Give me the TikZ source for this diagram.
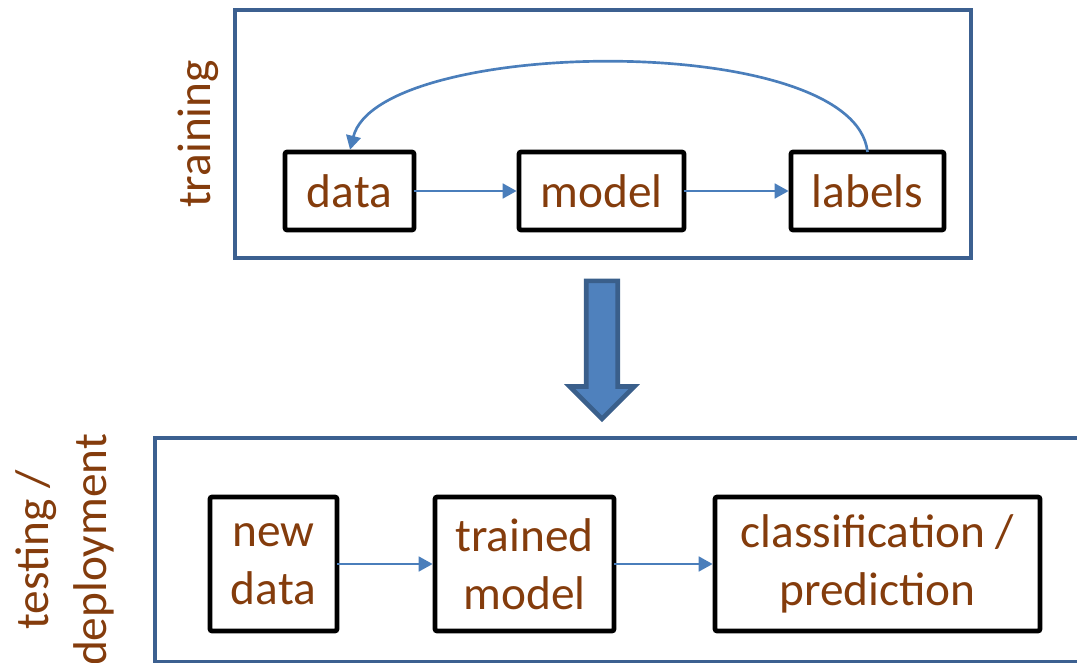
\documentclass[tikz,border=0pt]{standalone}
\usepackage{fontspec}
\setmainfont{Carlito}
\usepackage{tikz}
\usetikzlibrary{arrows.meta,positioning,shapes.arrows}
\definecolor{panel}{HTML}{3C6090}
\definecolor{link}{HTML}{4A7EBB}
\definecolor{word}{HTML}{843C0C}
\definecolor{bfill}{HTML}{4F81BD}
\definecolor{bedge}{HTML}{3A5F8B}
\newcommand{\bigtext}{\fontsize{35.5}{43.5}\selectfont}
\tikzset{
  box/.style={draw=black, line width=3.5pt, rounded corners=1.5pt, outer sep=0pt,
              inner sep=0pt, align=center, font=\bigtext, text=word},
  pane/.style={draw=panel, line width=3pt, outer sep=0pt, inner sep=0pt},
  ar/.style={-{Triangle[length=10.5pt,width=11pt]}, line width=2pt, draw=link,
             shorten >=1.75pt},
  side/.style={rotate=90, font=\bigtext, text=word, align=center},
  blockarrow/.style={single arrow, draw=bedge, fill=bfill, line width=3.5pt,
              rotate=-90, minimum height=103.5pt, inner xsep=0pt, inner ysep=10.1pt,
              single arrow head extend=12.4pt, outer sep=0pt},
}

\begin{document}
\begin{tikzpicture}[x=0.75pt,y=-0.75pt]
\useasboundingbox (0,0) rectangle (1077,663);

\node[pane, minimum width=552pt, minimum height=185.6pt] (top) at (603,134) {};
\node[pane, minimum width=701.25pt, minimum height=168pt] (bot) at (622.5,550) {};

\node[side] (tr) at (198,134) {training};
\node[side] (td) at (65,550) {testing /\\deployment};

\node[box, minimum width=96.75pt, minimum height=58.5pt] (d) at (349.5,191) {data};
\node[box, minimum width=123.75pt, minimum height=58.5pt, right=78.75pt of d] (m) {model};
\node[box, minimum width=114.75pt, minimum height=58.5pt, right=80.25pt of m] (l) {labels};

\draw[ar] (d) -- (m);
\draw[ar] (m) -- (l);
\draw[ar] (l.north) .. controls +(-13,-122) and +(29,-115) .. (d.north);

\node[blockarrow] (down) at (602,342) {};

\node[box, minimum width=95.25pt, minimum height=100.5pt] (nd) at (273.5,564) {new\\data};
\node[box, minimum width=134.25pt, minimum height=100.5pt, right=73.5pt of nd] (tm) {trained\\model};
\node[box, minimum width=243.75pt, minimum height=100.5pt, right=75.75pt of tm] (cp) {classification /\\prediction};

\draw[ar] (nd) -- (tm);
\draw[ar] (tm) -- (cp);
\end{tikzpicture}
\end{document}
